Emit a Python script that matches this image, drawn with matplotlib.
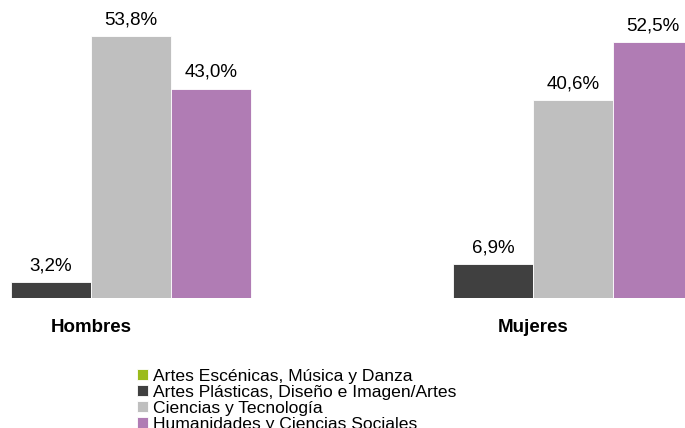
import numpy as np
import matplotlib.pyplot as plt

plt.rcParams['font.family'] = ['Liberation Sans', 'DejaVu Sans']

groups = ["Hombres", "Mujeres"]
series = ["Artes Escénicas, Música y Danza",
          "Artes Plásticas, Diseño e Imagen/Artes",
          "Ciencias y Tecnología",
          "Humanidades y Ciencias Sociales"]
values = [
    [0.0, 0.0],
    [3.2, 6.9],
    [53.8, 40.6],
    [43.0, 52.5],
]
colors = ["#9bbb1c", "#404040", "#bfbfbf", "#b07cb4"]

fig = plt.figure(figsize=(6.85, 4.28), dpi=100)
ax = fig.add_axes([0, 0.3037, 1, 0.6963])

x = np.arange(len(groups))
w = 0.181
for i, (name, vals, c) in enumerate(zip(series, values, colors)):
    pos = x + (i - 1.5) * w
    ax.bar(pos, vals, w, color=c, edgecolor="white", linewidth=0.6, label=name)
    for p, v in zip(pos, vals):
        if v > 0:
            ax.text(p, v + 1.6, f"{v:.1f}%".replace(".", ","), ha="center",
                    va="bottom", fontsize=13.5)

ax.set_xlim(-0.206, 1.344)
ax.set_ylim(0, 61.2)
ax.axis("off")

for xi, g in zip(x, groups):
    fig.text(ax.transData.transform((xi, 0))[0] / fig.dpi / 6.85, 1 - 328 / 428, g,
             ha="center", va="center", fontsize=13.5, fontweight="bold")

fig.legend(loc="upper left", bbox_to_anchor=(0.2, 1 - 369 / 428), frameon=False,
           fontsize=12.6, labelspacing=0.06, handlelength=0.6, handleheight=0.6,
           handletextpad=0.3, borderpad=0, borderaxespad=0)

fig.savefig("out.png", dpi=100)
